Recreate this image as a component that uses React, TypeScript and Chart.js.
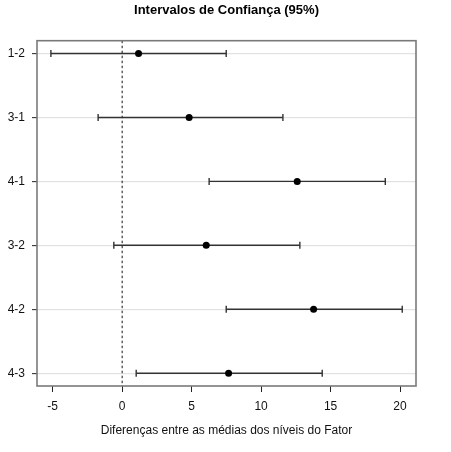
import { useEffect, useRef } from 'react'
import { Chart, registerables, type ChartConfiguration, type Plugin } from 'chart.js'

Chart.register(...registerables)

const comparisons = ['1-2', '3-1', '4-1', '3-2', '4-2', '4-3']
const estimates = [1.18, 4.82, 12.6, 6.05, 13.78, 7.66]
const lowerBounds = [-5.13, -1.73, 6.26, -0.6, 7.49, 1.01]
const upperBounds = [7.49, 11.57, 18.94, 12.79, 20.16, 14.4]
const xTicks = [-5, 0, 5, 10, 15, 20]
const xMin = -6.13
const xMax = 21.15
const yMin = 0.8
const yMax = 6.2

const fontFamily = 'Arial, "Liberation Sans", Helvetica, sans-serif'

const boxPlugin: Plugin<'scatter'> = {
  id: 'plotBox',
  afterDraw(chart) {
    const { ctx, chartArea } = chart
    ctx.save()
    ctx.strokeStyle = '#7a7a7a'
    ctx.lineWidth = 1.6
    ctx.strokeRect(chartArea.left, chartArea.top, chartArea.right - chartArea.left, chartArea.bottom - chartArea.top)
    ctx.restore()
  },
}

export default function App() {
  const canvasRef = useRef<HTMLCanvasElement | null>(null)

  useEffect(() => {
    const canvas = canvasRef.current
    if (!canvas) {
      return
    }

    const intervalSets = comparisons.map((name, index) => ({
      label: name,
      data: [
        { x: lowerBounds[index], y: index + 1 },
        { x: upperBounds[index], y: index + 1 },
      ],
      showLine: true,
      borderColor: '#333',
      borderWidth: 1.4,
      pointStyle: 'line' as const,
      pointRotation: 90,
      pointRadius: 3.5,
      pointBorderColor: '#333',
      pointBorderWidth: 1.4,
      order: 2,
    }))

    const config: ChartConfiguration<'scatter'> = {
      type: 'scatter',
      data: {
        datasets: [
          {
            label: 'zero',
            data: [
              { x: 0, y: yMin },
              { x: 0, y: yMax },
            ],
            showLine: true,
            borderColor: '#111',
            borderWidth: 1,
            borderDash: [2.5, 2.5],
            pointRadius: 0,
            order: 3,
          },
          ...intervalSets,
          {
            label: 'estimativa',
            data: estimates.map((value, index) => ({ x: value, y: index + 1 })),
            pointStyle: 'circle',
            pointRadius: 3.5,
            pointBackgroundColor: '#000',
            pointBorderColor: '#000',
            pointBorderWidth: 0,
            order: 1,
          },
        ],
      },
      options: {
        responsive: true,
        maintainAspectRatio: false,
        animation: false,
        layout: {
          padding: { left: 0, right: 35, top: 0, bottom: 0 },
        },
        plugins: {
          legend: { display: false },
          tooltip: { enabled: false },
          title: {
            display: true,
            text: 'Intervalos de Confiança (95%)',
            color: '#000',
            fullSize: false,
            font: { family: fontFamily, size: 13, weight: 'bold' },
            padding: { top: 2.5, bottom: 22.6 },
          },
        },
        scales: {
          x: {
            type: 'linear',
            min: xMin,
            max: xMax,
            afterBuildTicks: (scale) => {
              scale.ticks = xTicks.map((value) => ({ value }))
            },
            afterFit: (scale) => {
              scale.height = 66
            },
            border: { display: false },
            grid: {
              drawOnChartArea: false,
              drawTicks: true,
              tickLength: 6,
              tickColor: '#222',
              tickWidth: 1,
            },
            ticks: {
              color: '#111',
              padding: 7,
              font: { family: fontFamily, size: 12 },
            },
            title: {
              display: true,
              text: 'Diferenças entre as médias dos níveis do Fator',
              color: '#111',
              font: { family: fontFamily, size: 12 },
              padding: { top: 0, bottom: 14 },
            },
          },
          y: {
            type: 'linear',
            reverse: true,
            min: yMin,
            max: yMax,
            afterBuildTicks: (scale) => {
              scale.ticks = comparisons.map((_, index) => ({ value: index + 1 }))
            },
            afterFit: (scale) => {
              scale.width = 37
            },
            border: { display: false },
            grid: {
              color: '#e2e2e2',
              lineWidth: 1.3,
              drawTicks: true,
              tickLength: 5,
              tickColor: '#222',
              tickWidth: 1,
            },
            ticks: {
              color: '#111',
              padding: 7,
              font: { family: fontFamily, size: 12 },
              callback: (value) => comparisons[Number(value) - 1] ?? '',
            },
          },
        },
      },
      plugins: [boxPlugin],
    }

    const chart = new Chart(canvas, config)

    return () => {
      chart.destroy()
    }
  }, [])

  return (
    <div style={{ position: 'fixed', left: 0, top: 0, width: 451, height: 452, background: '#fff' }}>
      <canvas ref={canvasRef} aria-label="Intervalos de Confiança (95%)" role="img" />
    </div>
  )
}
